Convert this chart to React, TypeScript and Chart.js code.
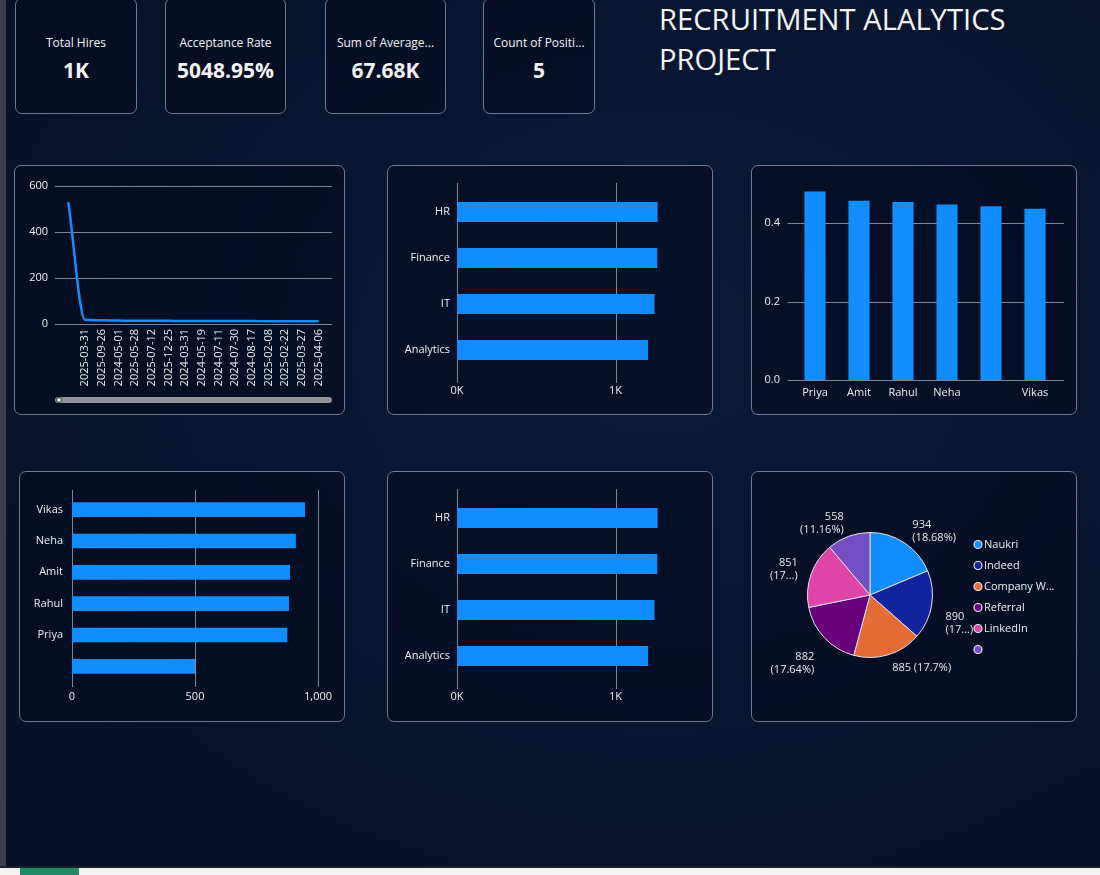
import React, { useEffect, useRef } from "react";
import { Chart, registerables } from "chart.js";

Chart.register(...registerables);

const FONT = "'Segoe UI', 'Open Sans', sans-serif";
const BLUE = "#118DFF";
const GRID = "#7c8698";
const TICK = "#eceef2";
const CARD_BORDER = "#6f7c95";
const CARD_BG = "rgba(3, 10, 28, 0.55)";

Chart.defaults.font.family = FONT;
Chart.defaults.font.size = 11;
Chart.defaults.color = TICK;

// ---------- KPI ----------
const kpiLabels = ["Total Hires", "Acceptance Rate", "Sum of Average...", "Count of Positi..."];
const kpiValues = ["1K", "5048.95%", "67.68K", "5"];

// ---------- Hires by date (line) ----------
const hireDates = [
  "",
  "2025-03-31",
  "2025-09-26",
  "2024-05-01",
  "2025-05-28",
  "2025-07-12",
  "2025-12-25",
  "2024-03-31",
  "2024-05-19",
  "2024-07-11",
  "2024-07-30",
  "2024-08-17",
  "2025-02-08",
  "2025-02-22",
  "2025-03-27",
  "2025-04-06",
];
const hireCounts = [530, 18, 16, 15, 14, 14, 14, 13, 13, 13, 13, 13, 12, 12, 12, 12];

// ---------- Hires by department (top & bottom middle) ----------
const deptLabels = ["HR", "Finance", "IT", "Analytics"];
const deptHires = [1265, 1263, 1245, 1205];
const deptLabels2 = ["HR", "Finance", "IT", "Analytics"];
const deptHires2 = [1265, 1263, 1245, 1205];
const deptTicks = [0, 1000];

// ---------- Recruiter rate (vertical bars) ----------
const recruiterLabels = ["Priya", "Amit", "Rahul", "Neha", "", "Vikas"];
const recruiterRates = [0.481, 0.457, 0.454, 0.448, 0.443, 0.437];
const rateTicks = [0, 0.2, 0.4];

// ---------- Recruiter hires (horizontal bars) ----------
const recruiterHireLabels = ["Vikas", "Neha", "Amit", "Rahul", "Priya", ""];
const recruiterHires = [947, 910, 886, 882, 875, 500];
const recruiterHireTicks = [0, 500, 1000];

// ---------- Source (pie) ----------
const sourceLabels = ["Naukri", "Indeed", "Company Website", "Referral", "LinkedIn", ""];
const sourceHires = [934, 890, 885, 882, 851, 558];
const sourceColors = ["#118DFF", "#12239E", "#E66C37", "#6B007B", "#E044A7", "#744EC2"];
const sourcePctTruncated = [false, true, false, false, true, false];
const sourceLabelInline = [false, false, true, false, false, false];

// ---------- plugins ----------
const gridExt = {
  id: "gridExt",
  beforeDatasetsDraw(chart: any, _args: any, opts: any) {
    if (!opts || !opts.axis) return;
    const scale = chart.scales[opts.axis];
    const a = chart.chartArea;
    const ctx = chart.ctx;
    ctx.save();
    ctx.strokeStyle = GRID;
    ctx.lineWidth = 1;
    scale.ticks.forEach((t: any) => {
      const p = Math.round(scale.getPixelForValue(t.value)) + 0.5;
      ctx.beginPath();
      if (opts.axis === "x") {
        ctx.moveTo(p, a.top - opts.start);
        ctx.lineTo(p, a.bottom + opts.end);
      } else {
        ctx.moveTo(a.left - opts.start, p);
        ctx.lineTo(a.right + opts.end, p);
      }
      ctx.stroke();
    });
    ctx.restore();
  },
};

const pieExtras = {
  id: "pieExtras",
  afterDraw(chart: any, _args: any, opts: any) {
    const ctx = chart.ctx;
    const meta = chart.getDatasetMeta(0);
    const data = chart.data.datasets[0].data as number[];
    const labels = chart.data.labels as string[];
    const colors = chart.data.datasets[0].backgroundColor as string[];
    const total = data.reduce((s, v) => s + v, 0);
    ctx.save();
    ctx.font = `11px ${FONT}`;
    ctx.fillStyle = "#e6e6e9";
    ctx.textBaseline = "middle";
    const lh = 13;
    meta.data.forEach((arc: any, i: number) => {
      const p = arc.getProps(["x", "y", "startAngle", "endAngle", "outerRadius"], true);
      const mid = (p.startAngle + p.endAngle) / 2;
      const r = p.outerRadius + 14;
      const px = p.x + Math.cos(mid) * r;
      const py = p.y + Math.sin(mid) * r;
      ctx.textAlign = Math.cos(mid) >= 0 ? "left" : "right";
      const val = String(data[i]);
      let pct = `(${+((data[i] / total) * 100).toFixed(2)}%)`;
      if (sourcePctTruncated[i]) pct = `(${pct.slice(1, 3)}...)`;
      if (sourceLabelInline[i]) {
        ctx.fillText(`${val} ${pct}`, px, py);
      } else if (py > p.y) {
        ctx.fillText(val, px, py + lh / 2 + 3);
        ctx.fillText(pct, px, py + lh * 1.5 + 3);
      } else {
        ctx.fillText(val, px, py - lh / 2);
        ctx.fillText(pct, px, py + lh / 2);
      }
    });
    // legend
    ctx.textAlign = "left";
    labels.forEach((lab, i) => {
      const cy = opts.y + i * opts.step;
      ctx.beginPath();
      ctx.arc(opts.x, cy, 4, 0, Math.PI * 2);
      ctx.fillStyle = colors[i];
      ctx.fill();
      ctx.lineWidth = 1.2;
      ctx.strokeStyle = "#e8e8f0";
      ctx.stroke();
      let txt = lab;
      if (ctx.measureText(txt).width > opts.maxW) {
        while (txt.length > 1 && ctx.measureText(txt + "...").width > opts.maxW) txt = txt.slice(0, -1);
        txt = txt.trimEnd() + "...";
      }
      ctx.fillStyle = "#eceef2";
      ctx.fillText(txt, opts.x + 6, cy + 0.5);
    });
    ctx.restore();
  },
};

// ---------- configs ----------
function hbarConfig(labels: string[], data: number[], tickVals: number[], o: any): any {
  return {
    type: "bar",
    data: {
      labels,
      datasets: [
        { data, backgroundColor: BLUE, borderWidth: 0, categoryPercentage: 1, barPercentage: o.bar },
      ],
    },
    options: {
      indexAxis: "y",
      responsive: false,
      animation: false,
      devicePixelRatio: 1,
      layout: { padding: { top: o.top, right: o.right, left: 0, bottom: 0 } },
      plugins: {
        legend: { display: false },
        tooltip: { enabled: false },
        gridExt: { axis: "x", start: o.extTop, end: o.extBottom },
      },
      scales: {
        x: {
          min: 0,
          max: o.max,
          ticks: { padding: o.xPad, maxRotation: 0, callback: o.fmt },
          afterBuildTicks: (s: any) => {
            s.ticks = tickVals.map((v) => ({ value: v }));
          },
          grid: { display: false, drawTicks: false },
          border: { display: false },
          afterFit: (s: any) => {
            s.height = o.xH;
            s.paddingLeft = 0;
            s.paddingRight = 0;
          },
        },
        y: {
          ticks: { padding: o.yPad, autoSkip: false },
          grid: { display: false, drawTicks: false },
          border: { display: false },
          afterFit: (s: any) => {
            s.width = o.yW;
            s.paddingTop = 0;
            s.paddingBottom = 0;
          },
        },
      },
    },
    plugins: [gridExt],
  };
}

const lineConfig = (): any => ({
  type: "line",
  data: {
    datasets: [
      {
        data: hireCounts.map((v, i) => ({ x: i, y: v })),
        borderColor: BLUE,
        borderWidth: 2.5,
        pointRadius: 0,
        cubicInterpolationMode: "monotone",
        fill: false,
      },
    ],
  },
  options: {
    responsive: false,
    animation: false,
    devicePixelRatio: 1,
    layout: { padding: { top: 21, right: 13, left: 0, bottom: 0 } },
    plugins: { legend: { display: false }, tooltip: { enabled: false } },
    scales: {
      x: {
        type: "linear",
        min: -0.8,
        max: 15.8,
        ticks: {
          autoSkip: false,
          minRotation: 90,
          maxRotation: 90,
          padding: 5,
          callback: (v: any) => hireDates[v] ?? "",
        },
        afterBuildTicks: (s: any) => {
          s.ticks = hireDates.map((_d, i) => ({ value: i }));
        },
        grid: { display: false, drawTicks: false },
        border: { display: false },
        afterFit: (s: any) => {
          s.height = 91;
          s.paddingLeft = 0;
          s.paddingRight = 0;
        },
      },
      y: {
        min: 0,
        max: 600,
        ticks: { stepSize: 200, padding: 7 },
        grid: { color: GRID, drawTicks: false },
        border: { display: false },
        afterFit: (s: any) => {
          s.width = 41;
          s.paddingTop = 0;
          s.paddingBottom = 0;
        },
      },
    },
  },
});

const vbarConfig = (): any => ({
  type: "bar",
  data: {
    labels: recruiterLabels,
    datasets: [
      { data: recruiterRates, backgroundColor: BLUE, borderWidth: 0, categoryPercentage: 1, barPercentage: 0.48 },
    ],
  },
  options: {
    responsive: false,
    animation: false,
    devicePixelRatio: 1,
    layout: { padding: { top: 19, right: 20, left: 0, bottom: 0 } },
    plugins: {
      legend: { display: false },
      tooltip: { enabled: false },
      gridExt: { axis: "y", start: 5.5, end: 7 },
    },
    scales: {
      x: {
        ticks: { padding: 6, autoSkip: false, maxRotation: 0 },
        grid: { display: false, drawTicks: false },
        border: { display: false },
        afterFit: (s: any) => {
          s.height = 35;
          s.paddingLeft = 0;
          s.paddingRight = 0;
        },
      },
      y: {
        min: 0,
        max: 0.5,
        ticks: { padding: 13, callback: (v: any) => Number(v).toFixed(1) },
        afterBuildTicks: (s: any) => {
          s.ticks = rateTicks.map((v) => ({ value: v }));
        },
        grid: { display: false, drawTicks: false },
        border: { display: false },
        afterFit: (s: any) => {
          s.width = 42;
          s.paddingTop = 0;
          s.paddingBottom = 0;
        },
      },
    },
  },
  plugins: [gridExt],
});

const pieConfig = (): any => ({
  type: "pie",
  data: {
    labels: sourceLabels,
    datasets: [
      { data: sourceHires, backgroundColor: sourceColors, borderColor: "#e2e2ee", borderWidth: 1 },
    ],
  },
  options: {
    responsive: false,
    animation: false,
    devicePixelRatio: 1,
    layout: { padding: { left: 56, top: 61, right: 144, bottom: 64 } },
    plugins: {
      legend: { display: false },
      tooltip: { enabled: false },
      pieExtras: { x: 227, y: 73.5, step: 21, maxW: 72 },
    },
  },
  plugins: [pieExtras],
});

const kFmt = (v: any) => `${Number(v) / 1000}K`;
const commaFmt = (v: any) => Number(v).toLocaleString("en-US");

// ---------- components ----------
function ChartCard(props: { x: number; y: number; w: number; h: number; make: () => any; children?: any }) {
  const ref = useRef<HTMLCanvasElement>(null);
  useEffect(() => {
    const chart = new Chart(ref.current as HTMLCanvasElement, props.make());
    return () => chart.destroy();
  }, []);
  return (
    <div
      style={{
        position: "absolute",
        left: props.x,
        top: props.y,
        width: props.w,
        height: props.h,
        background: CARD_BG,
        borderRadius: 7,
      }}
    >
      <canvas ref={ref} width={props.w} height={props.h} style={{ display: "block", width: props.w, height: props.h }} />
      {props.children}
      <div
        style={{
          position: "absolute",
          inset: 0,
          border: `1px solid ${CARD_BORDER}`,
          borderRadius: 7,
          pointerEvents: "none",
        }}
      />
    </div>
  );
}

const kpiBoxes = [
  { x: 15, w: 122 },
  { x: 165, w: 121 },
  { x: 325, w: 121 },
  { x: 483, w: 112 },
];

export default function App() {
  useEffect(() => {
    document.body.style.margin = "0";
  }, []);
  return (
    <div
      style={{
        position: "relative",
        width: 1100,
        height: 875,
        overflow: "hidden",
        fontFamily: FONT,
        background:
          "radial-gradient(ellipse at 60% 40%, #0a1b38 0%, #07152e 55%, #051127 100%)",
      }}
    >
      <style>{"body{margin:0}"}</style>
      {/* left strip */}
      <div style={{ position: "absolute", left: 0, top: 0, width: 6, height: 868, background: "#3a3f4a" }} />
      {/* bottom strip */}
      <div style={{ position: "absolute", left: 0, top: 866, width: 1100, height: 2, background: "#1c2029" }} />
      <div style={{ position: "absolute", left: 0, top: 868, width: 1100, height: 7, background: "#f4f4f4" }} />
      <div style={{ position: "absolute", left: 20, top: 868, width: 59, height: 7, background: "#1f8a65" }} />

      {/* KPI cards */}
      {kpiBoxes.map((b, i) => (
        <div
          key={i}
          style={{
            position: "absolute",
            left: b.x,
            top: -2,
            width: b.w,
            height: 116,
            boxSizing: "border-box",
            border: `1px solid ${CARD_BORDER}`,
            borderRadius: 7,
            background: CARD_BG,
            color: "#f2f3f6",
            textAlign: "center",
          }}
        >
          <div style={{ position: "absolute", left: 0, right: 0, top: 36, fontSize: 12, lineHeight: "16px" }}>
            {kpiLabels[i]}
          </div>
          <div
            style={{ position: "absolute", left: 0, right: 0, top: 58, fontSize: 21, lineHeight: "26px", fontWeight: 700 }}
          >
            {kpiValues[i]}
          </div>
        </div>
      ))}

      {/* Title */}
      <div
        style={{
          position: "absolute",
          left: 659,
          top: -1,
          fontSize: 29.2,
          lineHeight: "40px",
          color: "#f4f5f8",
          fontWeight: 400,
          whiteSpace: "nowrap",
        }}
      >
        RECRUITMENT ALALYTICS
        <br />
        PROJECT
      </div>

      {/* Row 1 */}
      <ChartCard x={14} y={165} w={331} h={250} make={lineConfig}>
        <div
          style={{
            position: "absolute",
            left: 41,
            top: 232,
            width: 277,
            height: 6,
            borderRadius: 3,
            background: "#8d929b",
          }}
        />
        <div
          style={{
            position: "absolute",
            left: 42,
            top: 232,
            width: 4,
            height: 4,
            borderRadius: 3,
            border: "1px solid #2a2f38",
            background: "#e8e8e8",
          }}
        />
      </ChartCard>
      <ChartCard
        x={387}
        y={165}
        w={326}
        h={250}
        make={() =>
          hbarConfig(deptLabels, deptHires, deptTicks, {
            bar: 0.435,
            top: 24,
            right: 34,
            max: 1400,
            fmt: kFmt,
            xPad: 11,
            xH: 42,
            yPad: 7,
            yW: 70,
            extTop: 6,
            extBottom: 10,
          })
        }
      />
      <ChartCard x={751} y={165} w={326} h={250} make={vbarConfig} />

      {/* Row 2 */}
      <ChartCard
        x={19}
        y={471}
        w={326}
        h={251}
        make={() =>
          hbarConfig(recruiterHireLabels, recruiterHires, recruiterHireTicks, {
            bar: 0.47,
            top: 23,
            right: 27,
            max: 1000,
            fmt: commaFmt,
            xPad: 8,
            xH: 40,
            yPad: 9,
            yW: 53,
            extTop: 4,
            extBottom: 5,
          })
        }
      />
      <ChartCard
        x={387}
        y={471}
        w={326}
        h={251}
        make={() =>
          hbarConfig(deptLabels2, deptHires2, deptTicks, {
            bar: 0.435,
            top: 24,
            right: 34,
            max: 1400,
            fmt: kFmt,
            xPad: 11,
            xH: 43,
            yPad: 7,
            yW: 70,
            extTop: 6,
            extBottom: 10,
          })
        }
      />
      <ChartCard x={751} y={471} w={326} h={251} make={pieConfig} />
    </div>
  );
}
